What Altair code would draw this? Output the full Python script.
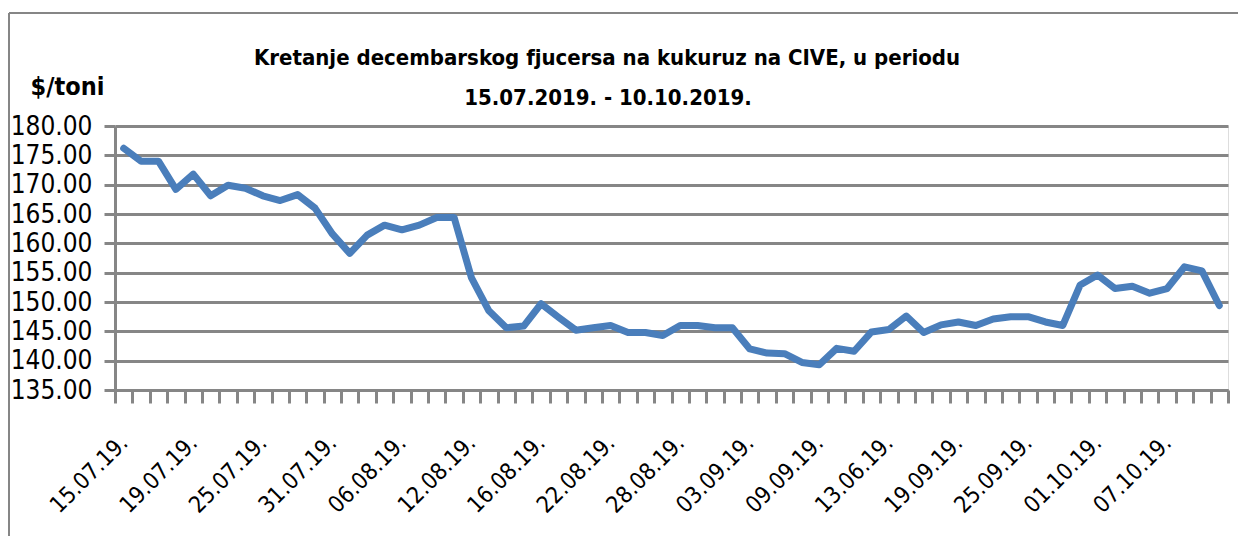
import altair as alt
import pandas as pd

dates = [
    "15.07.19.", "16.07.19.", "17.07.19.", "18.07.19.", "19.07.19.", "22.07.19.", "23.07.19.", "24.07.19.",
    "25.07.19.", "26.07.19.", "29.07.19.", "30.07.19.", "31.07.19.", "01.08.19.", "02.08.19.", "05.08.19.",
    "06.08.19.", "07.08.19.", "08.08.19.", "09.08.19.", "12.08.19.", "13.08.19.", "14.08.19.", "15.08.19.",
    "16.08.19.", "19.08.19.", "20.08.19.", "21.08.19.", "22.08.19.", "23.08.19.", "26.08.19.", "27.08.19.",
    "28.08.19.", "29.08.19.", "30.08.19.", "02.09.19.", "03.09.19.", "04.09.19.", "05.09.19.", "06.09.19.",
    "09.09.19.", "10.09.19.", "11.09.19.", "12.09.19.", "13.06.19.", "16.09.19.", "17.09.19.", "18.09.19.",
    "19.09.19.", "20.09.19.", "23.09.19.", "24.09.19.", "25.09.19.", "26.09.19.", "27.09.19.", "30.09.19.",
    "01.10.19.", "02.10.19.", "03.10.19.", "04.10.19.", "07.10.19.", "08.10.19.", "09.10.19.", "10.10.19.",
]

prices = [
    176.2, 174.0, 174.0, 169.2, 171.8, 168.1, 169.9, 169.4,
    168.1, 167.3, 168.3, 166.0, 161.6, 158.3, 161.4, 163.1,
    162.3, 163.1, 164.4, 164.4, 154.1, 148.5, 145.6, 145.9,
    149.7, 147.4, 145.2, 145.6, 146.0, 144.8, 144.8, 144.3,
    146.0, 146.0, 145.6, 145.6, 142.0, 141.3, 141.2, 139.7,
    139.3, 142.1, 141.6, 144.9, 145.3, 147.6, 144.8, 146.1,
    146.6, 146.0, 147.1, 147.5, 147.5, 146.6, 146.0, 152.9,
    154.6, 152.3, 152.7, 151.5, 152.3, 156.0, 155.3, 149.4,
]

y_ticks = [135, 140, 145, 150, 155, 160, 165, 170, 175, 180]
shown_labels = dates[::4]

title_line1 = "Kretanje decembarskog fjucersa na  kukuruz na CIVE, u periodu"
title_line2 = "15.07.2019. - 10.10.2019."
y_title = "$/toni"

df = pd.DataFrame({"date": dates, "price": prices})

GRAY = "#868686"
BLUE = "#4a7ebb"
FONT = "DejaVu Sans Condensed, Liberation Sans Narrow, Liberation Sans, sans-serif"

label_list = "[" + ",".join("'" + s + "'" for s in shown_labels) + "]"
label_expr = f"indexof({label_list}, datum.value) >= 0 ? datum.value : ''"

line = alt.Chart(df).mark_line(
    color=BLUE, strokeWidth=7, strokeJoin="round", strokeCap="round"
).encode(
    x=alt.X(
        "date:N", sort=None, bandPosition=0.5,
        scale=alt.Scale(type="band", paddingInner=0, paddingOuter=0),
        axis=alt.Axis(
            title=None, tickBand="extent", labelAngle=-45, labelAlign="right",
            labelBaseline="middle", labelPadding=36, labelFontSize=23, labelFont=FONT,
            labelColor="black", labelExpr=label_expr, labelOverlap=False,
            domainColor=GRAY, domainWidth=3, tickColor=GRAY, tickWidth=3, tickSize=13,
            grid=False,
        ),
    ),
    y=alt.Y(
        "price:Q",
        scale=alt.Scale(domain=[135, 180], nice=False, zero=False),
        axis=alt.Axis(
            values=y_ticks, format=".2f", title=y_title, titleAngle=0,
            titleX=-48, titleY=-40, titleAlign="center", titleBaseline="middle",
            titleFontSize=25, titleFont=FONT, titleFontWeight="bold", titleColor="black",
            labelFontSize=26, labelFont=FONT, labelColor="black", labelPadding=12,
            grid=True, gridColor=GRAY, gridWidth=3,
            domainColor=GRAY, domainWidth=3, tickColor=GRAY, tickWidth=3, tickSize=11,
        ),
    ),
)

one = pd.DataFrame({"k": [0]})
frame_top = alt.Chart(one).mark_rule(color=GRAY, strokeWidth=2).encode(
    x=alt.value(-106), x2=alt.value(1132), y=alt.value(-113)
)
frame_left = alt.Chart(one).mark_rule(color=GRAY, strokeWidth=2).encode(
    x=alt.value(-106), y=alt.value(-113), y2=alt.value(440)
)

title_style = dict(font=FONT, fontSize=22, fontWeight="bold", color="black",
                   align="center", baseline="middle")
t1 = alt.Chart(pd.DataFrame({"t": [title_line1]})).mark_text(**title_style).encode(
    text="t:N", x=alt.value(492), y=alt.value(-68)
)
t2 = alt.Chart(pd.DataFrame({"t": [title_line2]})).mark_text(**title_style).encode(
    text="t:N", x=alt.value(493), y=alt.value(-28)
)

chart = alt.layer(frame_top, frame_left, line, t1, t2).properties(
    width=1113,
    height=264,
    autosize=alt.AutoSizeParams(type="none"),
    padding={"left": 107, "top": 118, "right": 10, "bottom": 146},
).configure_view(strokeWidth=0).configure(background="white")

chart.save("out.html", embed_options={"renderer": "svg", "actions": False})
